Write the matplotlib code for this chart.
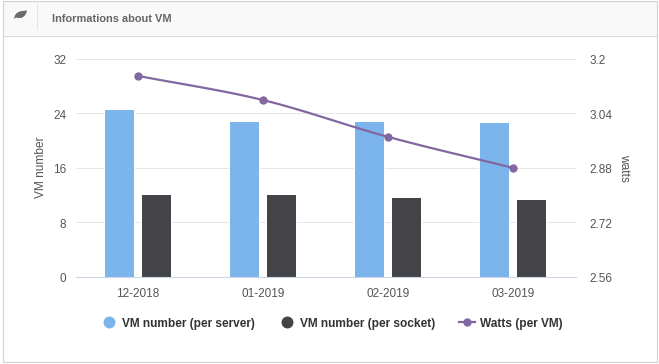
import numpy as np
from matplotlib import pyplot as plt
from matplotlib.lines import Line2D
from matplotlib.patches import PathPatch, Rectangle
from matplotlib.path import Path
from matplotlib.transforms import ScaledTranslation

plt.rcParams['font.family'] = ['Liberation Sans', 'DejaVu Sans']

months = ['12-2018', '01-2019', '02-2019', '03-2019']
vm_server = [24.6, 22.85, 22.85, 22.7]
vm_socket = [12.1, 12.1, 11.7, 11.4]
watts = [3.149, 3.078, 2.970, 2.879]
left_ticks = [0, 8, 16, 24, 32]
right_ticks = [2.56, 2.72, 2.88, 3.04, 3.2]
right_labels = ['2.56', '2.72', '2.88', '3.04', '3.2']

W, H = 659.0, 364.0
blue = '#7cb5ec'
dark = '#434348'
purple = '#8267a1'
text_col = '#555555'


def smooth(y, n=30):
    # spline through the points
    y = np.asarray(y)
    x = np.arange(len(y))
    m = np.gradient(y)
    xs, ys = [], []
    for i in range(len(y) - 1):
        t = np.linspace(0, 1, n)
        h00 = 2*t**3 - 3*t**2 + 1
        h10 = t**3 - 2*t**2 + t
        h01 = -2*t**3 + 3*t**2
        h11 = t**3 - t**2
        xs.append(x[i] + t)
        ys.append(h00*y[i] + h10*m[i] + h01*y[i+1] + h11*m[i+1])
    return np.concatenate(xs), np.concatenate(ys)


def px(x, y):
    return x/W, 1 - y/H


fig = plt.figure(figsize=(W/100, H/100), dpi=100, facecolor='white')

# card frame and header
fig.add_artist(Rectangle(px(2.5, 36), 654/W, 35.5/H, transform=fig.transFigure,
                         facecolor='#f9f9f9', edgecolor='none'))
fig.add_artist(Rectangle(px(2.5, 361.5), 654/W, 361/H, transform=fig.transFigure,
                         facecolor='none', edgecolor='#d2d2d2', lw=0.8))
fig.add_artist(Line2D([2.5/W, 656.5/W], [1 - 36/H]*2, color='#d9d9d9', lw=0.8))
fig.add_artist(Line2D([36.5/W, 36.5/W], [1 - 29/H, 1 - 1/H], color='#e4e4e4', lw=0.72))
leaf = Path([px(14, 19), px(15, 11), px(21, 11), px(27, 10.5), px(26, 16), px(22, 19.5), px(16, 17.5)],
            [Path.MOVETO, Path.CURVE4, Path.CURVE4, Path.CURVE4, Path.CURVE4, Path.CURVE4, Path.CURVE4])
fig.add_artist(PathPatch(leaf, transform=fig.transFigure, facecolor='#6a6a6a', edgecolor='none'))
fig.text(52.5/W, 1 - 18.5/H, 'Informations about VM', fontsize=7.9, fontweight='bold',
         color='#666666', ha='left', va='center')

ax = fig.add_axes([76/W, 1 - 276.5/H, 500/W, 218/H])
x = np.arange(len(months))
bar_w = 0.24
ax.bar(x - 0.155, vm_server, bar_w, color=blue, edgecolor='white', lw=0.72, zorder=3)
ax.bar(x + 0.141, vm_socket, bar_w, color=dark, edgecolor='white', lw=0.72, zorder=3)
ax.set_xlim(-0.496, 3.504)
ax.set_ylim(0, 32)
ax.set_yticks(left_ticks)
ax.set_xticks(x)
ax.set_xticklabels(months)
ax.grid(True, axis='y', color='#e6e6e6', lw=0.72, zorder=0)
ax.set_axisbelow(True)
ax.tick_params(axis='both', length=0, labelsize=8.5, labelcolor=text_col)
ax.tick_params(axis='x', pad=8)
ax.tick_params(axis='y', pad=7)
for s in ['top', 'left', 'right']:
    ax.spines[s].set_visible(False)
ax.spines['bottom'].set_color('#ccd6eb')
ax.spines['bottom'].set_linewidth(0.8)
ax.spines['bottom'].set_zorder(4)
ax.set_ylabel('VM number', fontsize=8.6, color=text_col, labelpad=4)

ax2 = ax.twinx()
sx, sy = smooth(watts)
ax2.plot(sx, sy, color=purple, lw=1.6, zorder=5)
ax2.plot(x, watts, 'o', color=purple, ms=6, mew=0, zorder=6)
ax2.set_ylim(2.56, 3.2)
ax2.set_yticks(right_ticks)
ax2.set_yticklabels(right_labels)
ax2.tick_params(axis='y', length=0, labelsize=8.5, labelcolor=text_col, pad=10)
for s in ax2.spines.values():
    s.set_visible(False)
ax2.set_ylabel('watts', fontsize=8.6, color=text_col, rotation=-90, labelpad=12)

# y labels sit a little below their grid lines
shift = ScaledTranslation(0, -1.0/72, fig.dpi_scale_trans)
for lab in ax.get_yticklabels() + ax2.get_yticklabels():
    lab.set_transform(lab.get_transform() + shift)

handles = [
    Line2D([], [], ls='none', marker='o', ms=8.6, mew=0, color=blue),
    Line2D([], [], ls='none', marker='o', ms=8.6, mew=0, color=dark),
    Line2D([], [], ls='-', lw=1.6, marker='o', ms=6, mew=0, color=purple),
]
labels = ['VM number (per server)', 'VM number (per socket)', 'Watts (per VM)']
fig.legend(handles, labels, ncol=3, loc='center', bbox_to_anchor=(332/W, 1 - 323.5/H),
           frameon=False, handlelength=1.3, handletextpad=0.4, columnspacing=2.05,
           prop={'size': 8.6, 'weight': 'bold'}, labelcolor='#333333')

fig.savefig('out.png', dpi=100)
